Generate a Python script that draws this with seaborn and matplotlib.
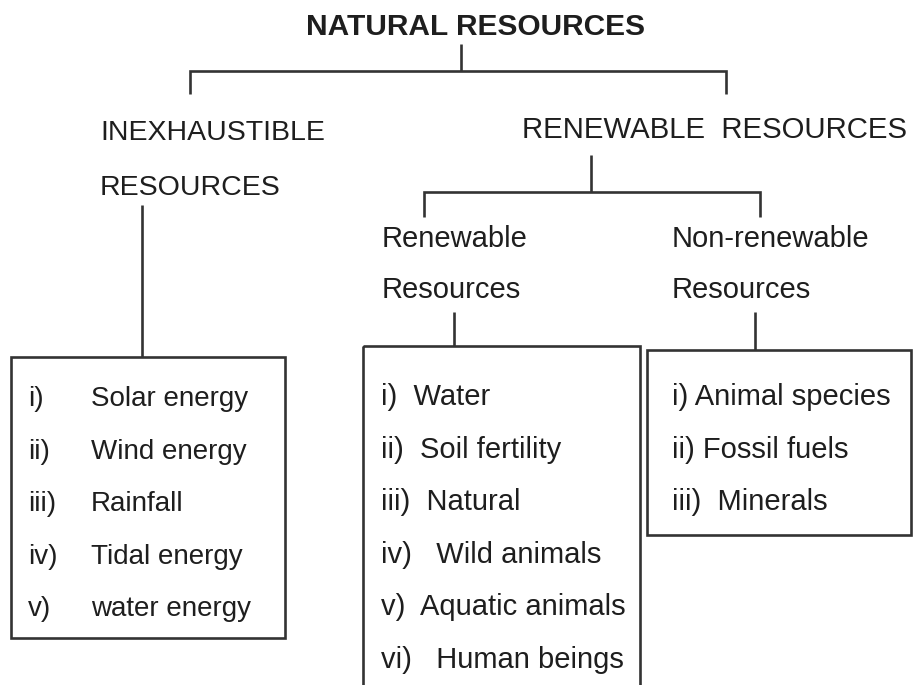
import matplotlib
matplotlib.use("Agg")
import matplotlib.pyplot as plt
import seaborn as sns
from matplotlib.patches import Rectangle

# Tree texts
title = "NATURAL RESOURCES"
branch_left = ["INEXHAUSTIBLE", "RESOURCES"]
branch_right = "RENEWABLE  RESOURCES"
sub_left = ["Renewable", "Resources"]
sub_right = ["Non-renewable", "Resources"]

inexhaustible_labels = ["i)", "ii)", "iii)", "iv)", "v)"]
inexhaustible_items = ["Solar energy", "Wind energy", "Rainfall", "Tidal energy", "water energy"]
renewable_items = ["i)  Water", "ii)  Soil fertility", "iii)  Natural", "iv)   Wild animals",
                   "v)  Aquatic animals", "vi)   Human beings"]
nonrenewable_items = ["i) Animal species", "ii) Fossil fuels", "iii)  Minerals"]

sns.set_theme(style="white")
plt.rcParams["font.family"] = ["Liberation Sans", "DejaVu Sans"]

INK = "#1e1e1e"
LINE = "#333333"
LW = 1.9


def seg(ax, xs, ys):
    ax.plot(xs, ys, color=LINE, lw=LW, solid_capstyle="butt", solid_joinstyle="miter")


def put(ax, x, y, s, size=20.5, **kw):
    ax.text(x, y, s, fontsize=size, color=INK, va="baseline", ha="left", **kw)


fig = plt.figure(figsize=(9.16, 6.85), dpi=100)
ax = fig.add_axes([0, 0, 1, 1])
ax.set_xlim(0, 916)
ax.set_ylim(685, 0)
ax.axis("off")

# title and first split
ax.text(475, 35, title, fontsize=21.5, fontweight="bold", color=INK, ha="center", va="baseline")
seg(ax, [461, 461], [44, 71])
seg(ax, [190, 190, 726, 726], [94, 71, 71, 94])

# level 2
put(ax, 100, 140, branch_left[0])
put(ax, 100, 195, branch_left[1])
put(ax, 522, 138, branch_right, size=21.2)

# left stem to box
seg(ax, [142, 142], [205, 357])

# renewable split
seg(ax, [591, 591], [155, 192])
seg(ax, [424, 424, 760, 760], [217, 192, 192, 217])
put(ax, 382, 247, sub_left[0], size=21)
put(ax, 382, 298, sub_left[1], size=21)
put(ax, 672, 247, sub_right[0], size=21)
put(ax, 672, 298, sub_right[1], size=21)
seg(ax, [454, 454], [312, 346])
seg(ax, [755, 755], [312, 350])

# boxes
ax.add_patch(Rectangle((11, 357), 274, 281, fill=False, ec=LINE, lw=LW))
ax.add_patch(Rectangle((363, 346), 277, 350, fill=False, ec=LINE, lw=LW))
ax.add_patch(Rectangle((647, 350), 264, 185, fill=False, ec=LINE, lw=LW))

row_gap = 52.6
for i, (lab, item) in enumerate(zip(inexhaustible_labels, inexhaustible_items)):
    y = 406 + i * row_gap
    put(ax, 28, y, lab, size=20)
    put(ax, 91, y, item, size=20)

for i, item in enumerate(renewable_items):
    put(ax, 381, 405 + i * row_gap, item, size=21)

for i, item in enumerate(nonrenewable_items):
    put(ax, 672, 405 + i * row_gap, item, size=21)

fig.savefig("out.png", dpi=100, facecolor="white")
plt.close(fig)
